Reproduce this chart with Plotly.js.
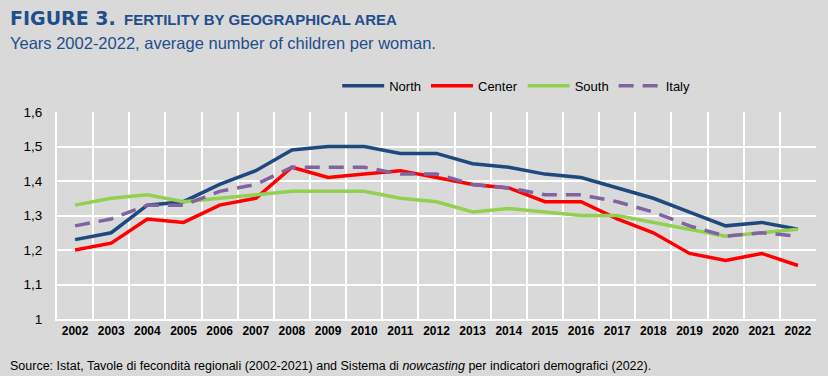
<!DOCTYPE html>
<html>
<head>
<meta charset="utf-8">
<script src="https://cdn.plot.ly/plotly-3.0.1.min.js"></script>
<style>html,body{margin:0;padding:0;background:#d9d9d9;}#chart{width:828px;height:376px;}</style>
</head>
<body>
<div id="chart"></div>
<script>
const years = ["2002","2003","2004","2005","2006","2007","2008","2009","2010","2011","2012","2013","2014","2015","2016","2017","2018","2019","2020","2021","2022"];
const north  = [1.23,1.25,1.33,1.34,1.39,1.43,1.49,1.50,1.50,1.48,1.48,1.45,1.44,1.42,1.41,1.38,1.35,1.31,1.27,1.28,1.26];
const center = [1.20,1.22,1.29,1.28,1.33,1.35,1.44,1.41,1.42,1.43,1.41,1.39,1.38,1.34,1.34,1.29,1.25,1.19,1.17,1.19,1.155];
const south  = [1.33,1.35,1.36,1.34,1.35,1.36,1.37,1.37,1.37,1.35,1.34,1.31,1.32,1.31,1.30,1.30,1.28,1.26,1.24,1.25,1.26];
const italy  = [1.27,1.29,1.33,1.33,1.37,1.39,1.44,1.44,1.44,1.42,1.42,1.39,1.38,1.36,1.36,1.34,1.31,1.27,1.24,1.25,1.24];
const yTicks = [1,1.1,1.2,1.3,1.4,1.5,1.6];

const narrow = '"Liberation Sans Narrow", "Arial Narrow", "Liberation Sans", Arial, sans-serif';
const blue = '#1f4e8c';

const traces = [
  {x: years, y: north, name: 'North', mode: 'lines', line: {color: '#1f497d', width: 3.5}},
  {x: years, y: center, name: 'Center', mode: 'lines', line: {color: '#ff0000', width: 3.5}},
  {x: years, y: south, name: 'South', mode: 'lines', line: {color: '#92d050', width: 3.5}},
  {x: years, y: italy, name: 'Italy', mode: 'lines', line: {color: '#8064a2', width: 3.5, dash: '15px,9px'}}
];

const layout = {
  width: 828, height: 376,
  paper_bgcolor: '#d9d9d9', plot_bgcolor: '#d9d9d9',
  margin: {l: 57, r: 12, t: 112, b: 57},
  separators: ', ',
  showlegend: true,
  legend: {orientation: 'h', x: 0.605, xanchor: 'center', y: 1.126, yanchor: 'middle', itemwidth: 42,
           font: {family: narrow, size: 13, color: '#000'}, bgcolor: 'rgba(0,0,0,0)', traceorder: 'normal'},
  xaxis: {type: 'category', range: [-0.5, 20.5], tickson: 'boundaries', showgrid: true, gridcolor: '#ffffff', gridwidth: 2,
          showline: true, linecolor: '#ffffff', linewidth: 2, ticks: '', zeroline: false,
          tickfont: {family: narrow, size: 12, color: '#000', weight: 'bold'}, fixedrange: true},
  yaxis: {range: [1, 1.6], tickvals: yTicks, showgrid: true, gridcolor: '#ffffff', gridwidth: 2,
          showline: true, linecolor: '#ffffff', linewidth: 2, ticks: '', zeroline: false,
          tickfont: {family: narrow, size: 13.5, color: '#000'}, ticklabelstandoff: 10, fixedrange: true},
  annotations: [
    {xref: 'paper', yref: 'paper', x: -0.0646, y: 1.454, xanchor: 'left', yanchor: 'middle', showarrow: false,
     text: '<b>FIGURE 3.</b>', font: {family: '"DejaVu Sans", Arial, sans-serif', size: 19, color: blue}},
    {xref: 'paper', yref: 'paper', x: 0.0856, y: 1.447, xanchor: 'left', yanchor: 'middle', showarrow: false,
     text: '<b>FERTILITY BY GEOGRAPHICAL AREA</b>', font: {family: narrow, size: 15, color: blue}},
    {xref: 'paper', yref: 'paper', x: -0.0646, y: 1.333, xanchor: 'left', yanchor: 'middle', showarrow: false,
     text: 'Years 2002-2022, average number of children per woman.', font: {family: narrow, size: 16.5, color: blue}},
    {xref: 'paper', yref: 'paper', x: -0.0646, y: -0.227, xanchor: 'left', yanchor: 'middle', showarrow: false,
     text: 'Source: Istat, Tavole di fecondità regionali (2002-2021) and Sistema di <i>nowcasting</i> per indicatori demografici (2022).',
     font: {family: narrow, size: 12.5, color: '#000'}}
  ]
};

Plotly.newPlot('chart', traces, layout, {displayModeBar: false, staticPlot: true});
</script>
</body>
</html>
